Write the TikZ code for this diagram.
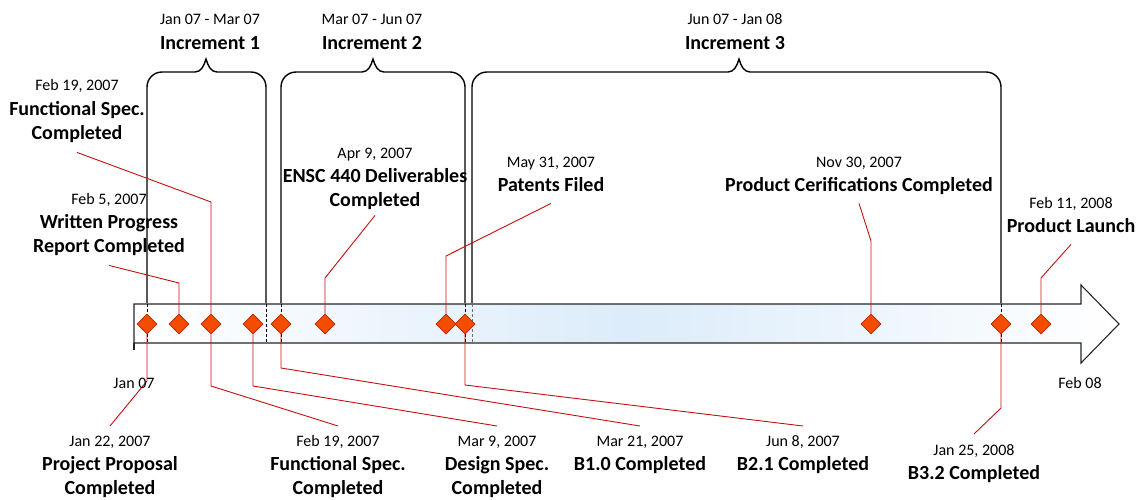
\documentclass[tikz,border=0pt]{standalone}
\usepackage{fontspec}
\setmainfont{Carlito}
\usetikzlibrary{shapes.geometric,calc}
\pgfdeclarelayer{back}
\pgfdeclarelayer{mid}
\pgfsetlayers{back,mid,main}
\definecolor{msred}{RGB}{196,16,16}
\definecolor{dfill}{RGB}{244,76,0}
\definecolor{dline}{RGB}{190,36,0}
\definecolor{tlblue}{RGB}{220,236,250}
\newcommand{\mydatefont}{\fontsize{16}{24}\selectfont\mdseries}
\newcommand{\topstrut}{\rule{0pt}{12pt}}
\newcommand{\botstrut}{\rule[-5pt]{0pt}{5pt}}
\newcommand{\incbrace}[3]{%
  \draw[bracket] (#1,303) -- (#1,87) .. controls (#1,78.7) and ({#1+6.7},72) .. ({#1+15},72)
    -- ({#3-11},72) .. controls ({#3-5},72) and ({#3-2},66) .. (#3,59)
    .. controls ({#3+2},66) and ({#3+5},72) .. ({#3+11},72)
    -- ({#2-15},72) .. controls ({#2-6.7},72) and (#2,78.7) .. (#2,87) -- (#2,303);}
\begin{document}
\begin{tikzpicture}[x=1pt,y=-1pt,
  lab/.style={inner sep=0pt, align=center, anchor=north, font=\fontsize{20}{24}\selectfont\bfseries},
  axislab/.style={inner sep=0pt, font=\mydatefont},
  ms/.style={diamond, aspect=1, minimum width=20pt, minimum height=20pt, inner sep=0pt, fill=dfill, draw=dline, line width=0.8pt},
  conn/.style={draw=msred, line width=0.9pt},
  bracket/.style={draw=black, line width=1.4pt},
  sepline/.style={line width=0.9pt, dash pattern=on 3pt off 2pt}
]
\useasboundingbox (0,0) rectangle (1136,499);

\begin{pgfonlayer}{back}
% timeline arrow
\path[left color=white, right color=white, middle color=tlblue]
  (134,304) -- (1081,304) -- (1081,285) -- (1119,324) -- (1081,363) -- (1081,343) -- (134,343) -- cycle;
\draw[line width=1.1pt, black!85] (134,343) -- (134,304) -- (1081,304) -- (1081,285) -- (1119,324) -- (1081,363) -- (1081,343) -- (134,343);
\draw[line width=1.1pt, black!85] (134,343) -- (134,350);
% dashed separators inside the arrow
\foreach \xx in {147,266,281,465,1001} \draw[sepline, black] (\xx,304) -- (\xx,343);
\draw[sepline, black!55] (472,304) -- (472,343);
% increment braces
\incbrace{147}{266}{206}
\incbrace{281}{465}{373}
\incbrace{472}{1001}{739}
\end{pgfonlayer}

% increment headings
\node[lab] (i1) at (210,12) {{\mydatefont\topstrut Jan 07 - Mar 07}\\[1pt]Increment 1};
\node[lab] (i2) at (372,12) {{\mydatefont\topstrut Mar 07 - Jun 07}\\[1pt]Increment 2};
\node[lab] (i3) at (735,12) {{\mydatefont\topstrut Jun 07 - Jan 08}\\[1pt]Increment 3};

% axis labels
\node[axislab] (jan07) at (134,383) {Jan 07};
\node[axislab] (feb08) at (1080,383) {Feb 08};

% milestone labels above
\node[lab] (l1) at (77,78) {{\mydatefont\topstrut Feb 19, 2007}\\[1pt]Functional Spec.\\Completed\botstrut};
\node[lab] (l2) at (109,192) {{\mydatefont\topstrut Feb 5, 2007}\\Written Progress\\Report Completed\botstrut};
\node[lab] (l3) at (375,146) {{\mydatefont\topstrut Apr 9, 2007}\\ENSC 440 Deliverables\\Completed\botstrut};
\node[lab] (l4) at (551,155) {{\mydatefont\topstrut May 31, 2007}\\Patents Filed\botstrut};
\node[lab] (l5) at (859,155) {{\mydatefont\topstrut Nov 30, 2007}\\Product Cerifications Completed\botstrut};
\node[lab] (l6) at (1071,196) {{\mydatefont\topstrut Feb 11, 2008}\\Product Launch\botstrut};

% milestone labels below
\node[lab] (b1) at (110,434) {{\mydatefont\topstrut Jan 22, 2007}\\Project Proposal\\Completed};
\node[lab] (b2) at (338,434) {{\mydatefont\topstrut Feb 19, 2007}\\Functional Spec.\\Completed};
\node[lab] (b3) at (497,434) {{\mydatefont\topstrut Mar 9, 2007}\\Design Spec.\\Completed};
\node[lab] (b4) at (640,434) {{\mydatefont\topstrut Mar 21, 2007}\\B1.0 Completed};
\node[lab] (b5) at (803,434) {{\mydatefont\topstrut Jun 8, 2007}\\B2.1 Completed};
\node[lab] (b6) at (974,443) {{\mydatefont\topstrut Jan 25, 2008}\\B3.2 Completed};

% milestone diamonds
\node[ms] (d1) at (147,324) {};
\node[ms] (d2) at (179,324) {};
\node[ms] (d3) at (211,324) {};
\node[ms] (d4) at (253,324) {};
\node[ms] (d5) at (281,324) {};
\node[ms] (d6) at (325,324) {};
\node[ms] (d7) at (446,324) {};
\node[ms] (d8) at (465,324) {};
\node[ms] (d9) at (871,324) {};
\node[ms] (d10) at (1001,324) {};
\node[ms] (d11) at (1041,324) {};

% kink coordinates
\coordinate (k1) at (211,202);
\coordinate (k2) at (179,283);
\coordinate (k3) at (325,278);
\coordinate (k4) at (446,256);
\coordinate (k5) at (871,241);
\coordinate (k6) at (1041,278);
\coordinate (m1) at (147,381);
\coordinate (m2) at (211,386);
\coordinate (m3) at (253,386);
\coordinate (m4) at (281,368);
\coordinate (m5) at (465,385);
\coordinate (m6) at (1001,408);

% connectors
\begin{pgfonlayer}{mid}
\draw[conn] ($(l1.south)+(0,8)$) -- (k1) -- (d3.north);
\draw[conn] ($(l2.south)+(0,8)$) -- (k2) -- (d2.north);
\draw[conn] ($(l3.south)+(0,4)$) -- (k3) -- (d6.north);
\draw[conn] ($(l4.south)+(0,7)$) -- (k4) -- (d7.north);
\draw[conn] ($(l5.south)+(0,7)$) -- (k5) -- (d9.north);
\draw[conn] ($(l6.south)+(0,7)$) -- (k6) -- (d11.north);
\draw[conn] (d1.south) -- (m1) -- ($(b1.north)+(0,-8)$);
\draw[conn] (d3.south) -- (m2) -- ($(b2.north)+(0,-8)$);
\draw[conn] (d4.south) -- (m3) -- ($(b3.north)+(0,-8)$);
\draw[conn] (d5.south) -- (m4) -- ($(b4.north)+(0,-8)$);
\draw[conn] (d8.south) -- (m5) -- ($(b5.north)+(0,-8)$);
\draw[conn] (d10.south) -- (m6) -- ($(b6.north)+(0,-9)$);
\end{pgfonlayer}
\end{tikzpicture}
\end{document}
